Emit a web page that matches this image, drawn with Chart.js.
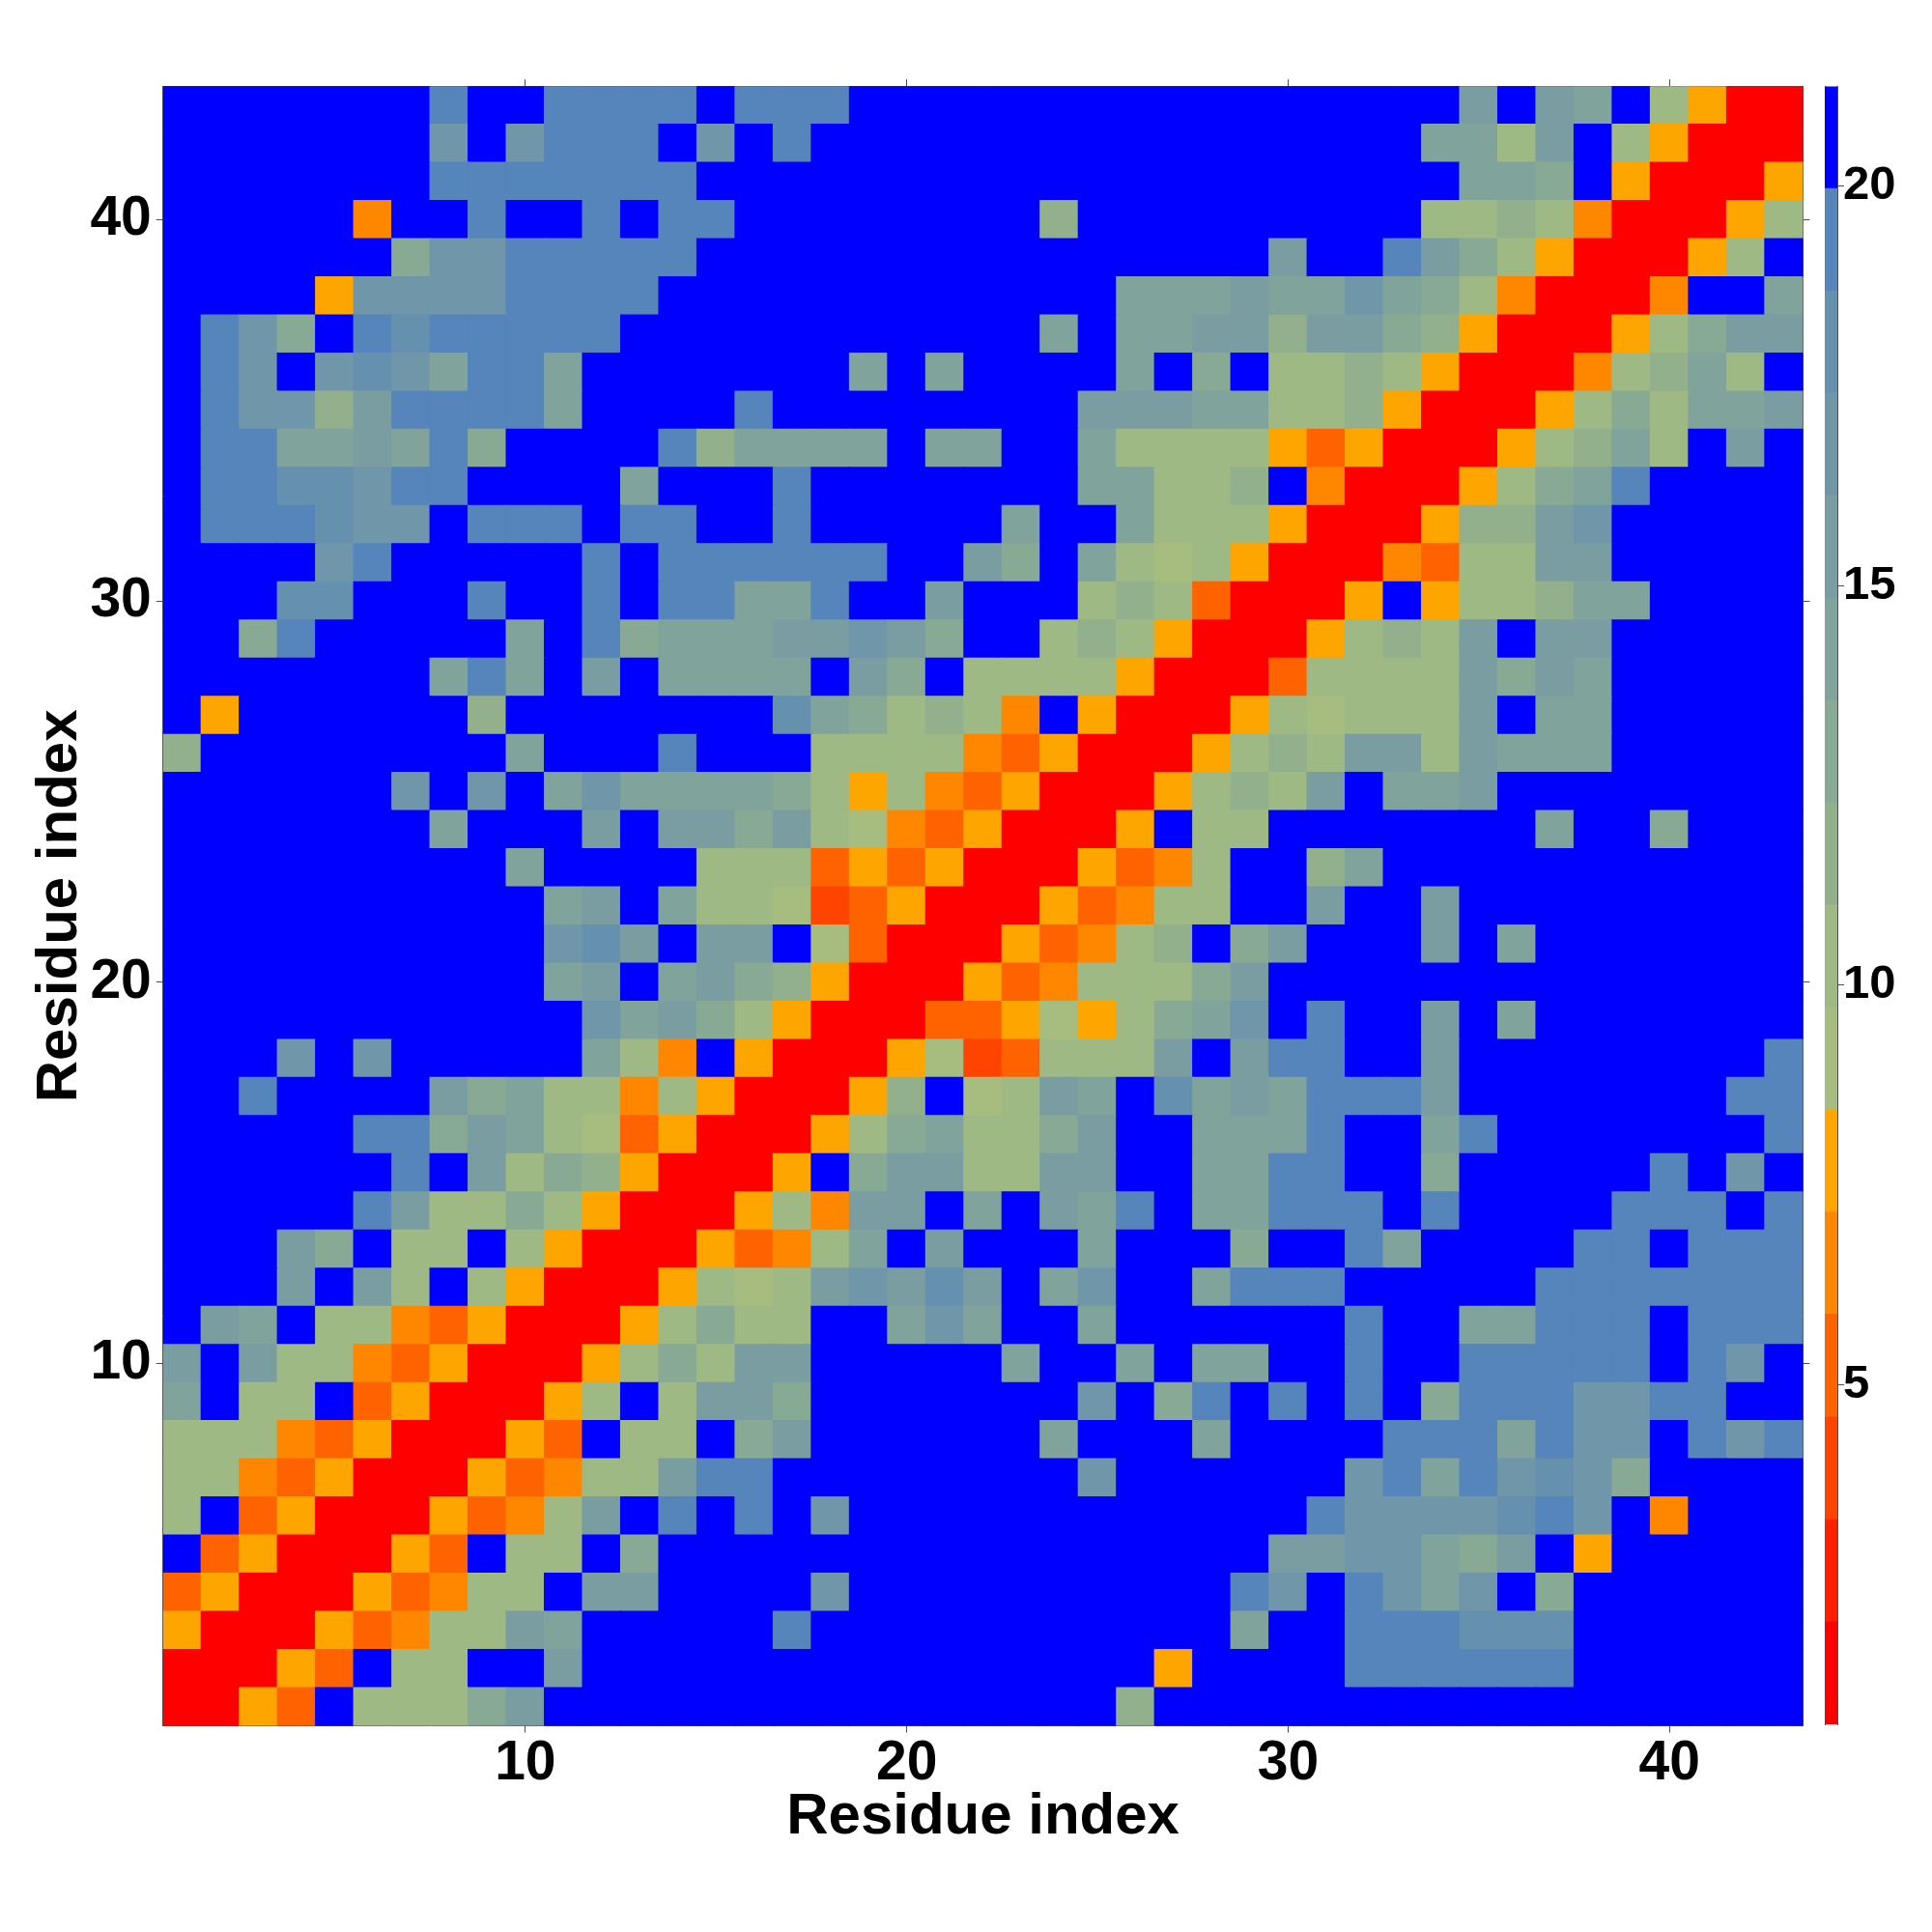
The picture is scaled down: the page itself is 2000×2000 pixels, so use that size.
<!DOCTYPE html>
<html>
<head>
<meta charset="utf-8">
<title>Residue distance map</title>
<script src="https://cdn.jsdelivr.net/npm/chart.js@4"></script>
<style>
  html, body { margin: 0; padding: 0; background: #fff; }
  #wrap { position: relative; width: 2000px; height: 2000px; }
  canvas { position: absolute; left: 0; top: 0; }
</style>
</head>
<body>
<div id="wrap">
  <canvas id="mapChart" width="2000" height="2000"></canvas>
  <canvas id="barChart" width="2000" height="2000"></canvas>
</div>
<script>
// values, one list per residue row, column 1 to 43
const row43 = [21,21,21,21,21,21,21,19,21,21,19,19,19,19,21,19,19,19,21,21,21,21,21,21,21,21,21,21,21,21,21,21,21,21,15,21,15,14,21,10,8,1,1];
const row42 = [21,21,21,21,21,21,21,17,21,17,19,19,19,21,17,21,19,21,21,21,21,21,21,21,21,21,21,21,21,21,21,21,21,14,14,10,15,21,10,8,1,1,1];
const row41 = [21,21,21,21,21,21,21,19,19,19,19,19,19,19,21,21,21,21,21,21,21,21,21,21,21,21,21,21,21,21,21,21,21,21,14,14,13,21,8,1,1,1,8];
const row40 = [21,21,21,21,21,7,21,21,19,21,21,19,21,19,19,21,21,21,21,21,21,21,21,12,21,21,21,21,21,21,21,21,21,10,10,12,10,7,1,1,1,8,10];
const row39 = [21,21,21,21,21,21,13,17,17,19,19,19,19,19,21,21,21,21,21,21,21,21,21,21,21,21,21,21,21,15,21,21,19,15,13,10,8,1,1,1,8,10,21];
const row38 = [21,21,21,21,8,17,17,17,17,19,19,19,19,21,21,21,21,21,21,21,21,21,21,21,21,14,14,14,15,14,14,17,14,13,10,7,1,1,1,7,21,21,14];
const row37 = [21,19,17,13,21,19,18,19,19,19,19,19,21,21,21,21,21,21,21,21,21,21,21,14,21,14,14,15,15,12,15,15,13,12,8,1,1,1,8,10,13,15,15];
const row36 = [21,19,17,21,17,18,17,14,19,19,14,21,21,21,21,21,21,21,14,21,14,21,21,21,21,14,21,13,21,10,10,12,10,8,1,1,1,7,10,12,14,10,21];
const row35 = [21,19,17,17,12,15,19,19,19,19,14,21,21,21,21,19,21,21,21,21,21,21,21,21,15,15,15,14,14,10,10,12,8,1,1,1,8,10,13,10,14,14,15];
const row34 = [21,19,19,14,14,15,14,19,13,21,21,21,21,19,12,14,14,14,14,21,14,14,21,21,14,10,10,10,10,8,5,8,1,1,1,8,10,12,14,10,21,15,21];
const row33 = [21,19,19,18,18,17,19,19,21,21,21,21,14,21,21,21,19,21,21,21,21,21,21,21,14,14,10,10,12,21,7,1,1,1,8,10,13,14,19,21,21,21,21];
const row32 = [21,19,19,19,18,17,17,21,19,19,19,21,19,19,21,21,19,21,21,21,21,21,14,21,21,14,10,10,10,8,1,1,1,8,12,12,15,17,21,21,21,21,21];
const row31 = [21,21,21,21,17,19,21,21,21,21,21,19,21,19,19,19,19,19,19,21,21,15,13,21,14,10,9,10,8,1,1,1,7,5,10,10,15,15,21,21,21,21,21];
const row30 = [21,21,21,18,18,21,21,21,19,21,21,19,21,19,19,14,14,19,21,21,15,21,21,21,10,12,10,5,1,1,1,8,21,8,10,10,12,14,14,21,21,21,21];
const row29 = [21,21,13,19,21,21,21,21,21,14,21,19,13,14,14,14,15,15,17,15,13,21,21,10,12,10,8,1,1,1,8,10,12,10,15,21,15,15,21,21,21,21,21];
const row28 = [21,21,21,21,21,21,21,14,19,14,21,15,21,14,14,14,14,21,15,13,21,10,10,10,10,8,1,1,1,5,10,10,10,10,15,13,15,14,21,21,21,21,21];
const row27 = [21,8,21,21,21,21,21,21,12,21,21,21,21,21,21,21,18,14,13,10,12,10,7,21,8,1,1,1,8,10,9,10,10,10,15,21,14,14,21,21,21,21,21];
const row26 = [12,21,21,21,21,21,21,21,21,14,21,21,21,19,21,21,21,10,10,10,10,7,5,8,1,1,1,8,10,12,10,15,15,10,15,14,14,14,21,21,21,21,21];
const row25 = [21,21,21,21,21,21,17,21,17,21,14,17,14,14,14,14,13,10,8,10,7,5,8,1,1,1,8,10,12,10,15,21,14,14,15,21,21,21,21,21,21,21,21];
const row24 = [21,21,21,21,21,21,21,14,21,21,21,15,21,15,15,13,15,10,9,7,5,8,1,1,1,8,21,10,10,21,21,21,21,21,21,21,14,21,21,13,21,21,21];
const row23 = [21,21,21,21,21,21,21,21,21,14,21,21,21,21,10,10,10,5,8,5,8,1,1,1,8,5,7,10,21,21,12,14,21,21,21,21,21,21,21,21,21,21,21];
const row22 = [21,21,21,21,21,21,21,21,21,21,14,15,21,14,10,10,9,4,5,8,1,1,1,8,5,7,10,10,21,21,15,21,21,15,21,21,21,21,21,21,21,21,21];
const row21 = [21,21,21,21,21,21,21,21,21,21,17,18,15,21,15,15,21,9,5,1,1,1,8,5,7,10,12,21,13,15,21,21,21,15,21,14,21,21,21,21,21,21,21];
const row20 = [21,21,21,21,21,21,21,21,21,21,14,15,21,14,15,13,12,8,1,1,1,8,5,7,10,10,10,13,15,21,21,21,21,21,21,21,21,21,21,21,21,21,21];
const row19 = [21,21,21,21,21,21,21,21,21,21,21,17,14,15,13,10,8,1,1,1,5,5,8,9,8,10,13,14,17,21,19,21,21,15,21,14,21,21,21,21,21,21,21];
const row18 = [21,21,21,17,21,17,21,21,21,21,21,14,10,7,21,8,1,1,1,8,9,4,5,10,10,10,15,21,15,19,19,21,21,15,21,21,21,21,21,21,21,21,19];
const row17 = [21,21,19,21,21,21,21,15,13,14,10,10,7,10,8,1,1,1,8,12,21,9,10,15,14,21,18,14,15,14,19,19,19,15,21,21,21,21,21,21,21,19,19];
const row16 = [21,21,21,21,21,19,19,13,15,14,10,9,5,8,1,1,1,8,10,13,14,10,10,13,15,21,21,14,14,14,19,21,21,14,19,21,21,21,21,21,21,21,19];
const row15 = [21,21,21,21,21,21,19,21,15,10,13,12,8,1,1,1,8,21,13,15,15,10,10,15,15,21,21,14,14,19,19,21,21,13,21,21,21,21,21,19,21,17,21];
const row14 = [21,21,21,21,21,19,15,10,10,13,10,8,1,1,1,8,10,7,15,15,21,14,21,15,14,19,21,14,14,19,19,19,21,19,21,21,21,21,19,19,19,21,19];
const row13 = [21,21,21,15,13,21,10,10,21,10,8,1,1,1,8,5,7,10,14,21,15,21,21,21,14,21,21,21,13,21,21,19,14,21,21,21,21,19,19,21,19,19,19];
const row12 = [21,21,21,15,21,15,10,21,10,8,1,1,1,8,10,9,10,15,17,15,18,15,21,14,17,21,21,14,19,19,19,21,21,21,21,21,19,19,19,19,19,19,19];
const row11 = [21,15,14,21,10,10,7,5,8,1,1,1,8,10,13,10,10,21,21,14,17,14,21,21,14,21,21,21,21,21,21,19,21,21,14,14,19,19,19,21,19,19,19];
const row10 = [15,21,15,10,10,7,5,8,1,1,1,8,10,13,10,15,15,21,21,21,21,21,14,21,21,14,21,14,14,21,21,19,21,21,19,19,19,19,19,21,19,17,21];
const row9 = [14,21,10,10,21,5,8,1,1,1,8,10,21,10,15,15,13,21,21,21,21,21,21,21,17,21,13,19,21,19,21,19,21,13,19,19,19,17,17,19,19,21,21];
const row8 = [10,10,10,7,5,8,1,1,1,8,5,21,10,10,21,13,15,21,21,21,21,21,21,14,21,21,21,14,21,21,21,21,19,19,19,14,19,17,17,21,19,17,19];
const row7 = [10,10,7,5,8,1,1,1,8,5,7,10,10,15,19,19,21,21,21,21,21,21,21,21,17,21,21,21,21,21,21,17,19,14,19,17,18,17,13,21,21,21,21];
const row6 = [10,21,5,8,1,1,1,8,5,7,10,15,21,19,21,19,21,17,21,21,21,21,21,21,21,21,21,21,21,21,19,17,17,17,17,18,19,17,21,7,21,21,21];
const row5 = [21,5,8,1,1,1,8,5,21,10,10,21,13,21,21,21,21,21,21,21,21,21,21,21,21,21,21,21,21,15,15,17,17,14,13,15,21,8,21,21,21,21,21];
const row4 = [5,8,1,1,1,8,5,7,10,10,21,15,15,21,21,21,21,17,21,21,21,21,21,21,21,21,21,21,19,17,21,19,17,14,17,21,13,21,21,21,21,21,21];
const row3 = [8,1,1,1,8,5,7,10,10,15,14,21,21,21,21,21,19,21,21,21,21,21,21,21,21,21,21,21,14,21,21,19,19,19,18,18,18,21,21,21,21,21,21];
const row2 = [1,1,1,8,5,21,10,10,21,21,15,21,21,21,21,21,21,21,21,21,21,21,21,21,21,21,8,21,21,21,21,19,19,19,19,19,19,21,21,21,21,21,21];
const row1 = [1,1,8,5,21,10,10,10,13,15,21,21,21,21,21,21,21,21,21,21,21,21,21,21,21,12,21,21,21,21,21,21,21,21,21,21,21,21,21,21,21,21,21];

const rows = [row1,row2,row3,row4,row5,row6,row7,row8,row9,row10,row11,row12,row13,row14,row15,row16,row17,row18,row19,row20,row21,row22,
              row23,row24,row25,row26,row27,row28,row29,row30,row31,row32,row33,row34,row35,row36,row37,row38,row39,row40,row41,row42,row43];

const residues = rows.map((r, i) => i + 1);
const axisTicks = [10, 20, 30, 40];
const barTicks = [5, 10, 15, 20];
const axisTitle = 'Residue index';

// colour bar: 16 levels
const levelEdges = [0.75,2.03,3.31,4.59,5.88,7.16,8.44,9.72,11,12.28,13.56,14.84,16.13,17.41,18.69,19.97,21.25];
const levelColors = ['#ff0000','#ff2000','#ff4400','#ff6300','#ff8700','#ffa500','#a7bd80','#9fb985','#93b08d','#88a994',
                     '#80a39b','#7a9da2','#6f97a9','#6590ae','#5585bb','#0000ff'];

function colorFor(v) {
    for (let i = 0; i < levelColors.length; i++) {
        if (v < levelEdges[i + 1]) return levelColors[i];
    }
    return levelColors[levelColors.length - 1];
}

const FONT = '"Liberation Sans", Arial, sans-serif';
const LINE = '#4d4d4d';

function mapDatasets() {
    return rows.map((row, i) => ({
        data: row.map(() => [residues[i] - 0.5, residues[i] + 0.5]),
        backgroundColor: row.map(colorFor),
        borderWidth: 0,
        inflateAmount: 0.6,
        barPercentage: 1,
        categoryPercentage: 1,
        grouped: false
    }));
}

function keepCategoryTicks(scale) {
    scale.ticks = scale.ticks.filter(t => axisTicks.includes(residues[t.value]));
}

function keepLinearTicks(list) {
    return scale => { scale.ticks = list.map(v => ({ value: v })); };
}

function fixHeight(h) { return scale => { scale.height = h; }; }
function fixWidth(w) { return scale => { scale.width = w; }; }

const markGrid = { drawOnChartArea: false, drawTicks: true, tickLength: 7, offset: false, color: LINE, lineWidth: 1 };
const frame = { display: true, color: LINE, width: 1 };

new Chart(document.getElementById('mapChart').getContext('2d'), {
    type: 'bar',
    data: { labels: residues, datasets: mapDatasets() },
    options: {
        responsive: false,
        devicePixelRatio: 1,
        animation: false,
        layout: { padding: 0 },
        plugins: { legend: { display: false }, tooltip: { enabled: false } },
        scales: {
            x: {
                position: 'bottom',
                grid: markGrid,
                border: frame,
                afterBuildTicks: keepCategoryTicks,
                afterFit: fixHeight(213.5),
                ticks: { autoSkip: false, maxRotation: 0, padding: -1, color: '#000', font: { family: FONT, size: 57, weight: 'bold' } },
                title: { display: true, text: axisTitle, color: '#000', font: { family: FONT, size: 60, weight: 'bold' }, padding: { top: 0, bottom: 83 } }
            },
            xTop: {
                position: 'top',
                type: 'category',
                grid: markGrid,
                border: frame,
                afterBuildTicks: keepCategoryTicks,
                afterFit: fixHeight(89.2),
                ticks: { display: false, autoSkip: false }
            },
            y: {
                position: 'left',
                min: 0.5,
                max: 43.5,
                grid: markGrid,
                border: frame,
                afterBuildTicks: keepLinearTicks(axisTicks),
                afterFit: fixWidth(168.8),
                ticks: { padding: 5, color: '#000', font: { family: FONT, size: 57, weight: 'bold' } },
                title: { display: true, text: axisTitle, color: '#000', font: { family: FONT, size: 60, weight: 'bold' }, padding: { top: 26, bottom: 0 } }
            },
            yRight: {
                position: 'right',
                min: 0.5,
                max: 43.5,
                grid: markGrid,
                border: frame,
                afterBuildTicks: keepLinearTicks(axisTicks),
                afterFit: fixWidth(133.6),
                ticks: { display: false }
            }
        }
    }
});

// colour bar, a second chart over the same page
new Chart(document.getElementById('barChart').getContext('2d'), {
    type: 'bar',
    data: {
        labels: [''],
        datasets: levelColors.map((c, i) => ({
            data: [[levelEdges[i], levelEdges[i + 1]]],
            backgroundColor: c,
            borderWidth: 0,
            inflateAmount: 0.6,
            barPercentage: 1,
            categoryPercentage: 1,
            grouped: false
        }))
    },
    options: {
        responsive: false,
        devicePixelRatio: 1,
        animation: false,
        layout: { padding: { left: 1889, top: 89.5, bottom: 215 } },
        plugins: { legend: { display: false }, tooltip: { enabled: false } },
        scales: {
            x: { display: false },
            y: {
                position: 'right',
                min: levelEdges[0],
                max: levelEdges[levelEdges.length - 1],
                grid: { drawOnChartArea: false, tickLength: 7, color: LINE, lineWidth: 1 },
                border: frame,
                afterBuildTicks: keepLinearTicks(barTicks),
                afterFit: fixWidth(98),
                ticks: { padding: -1, color: '#000', font: { family: FONT, size: 49, weight: 'bold' } }
            },
            yBarLeft: {
                position: 'left',
                min: levelEdges[0],
                max: levelEdges[levelEdges.length - 1],
                grid: { drawOnChartArea: false, drawTicks: false },
                border: frame,
                afterFit: fixWidth(0),
                ticks: { display: false }
            }
        }
    }
});
</script>
</body>
</html>
